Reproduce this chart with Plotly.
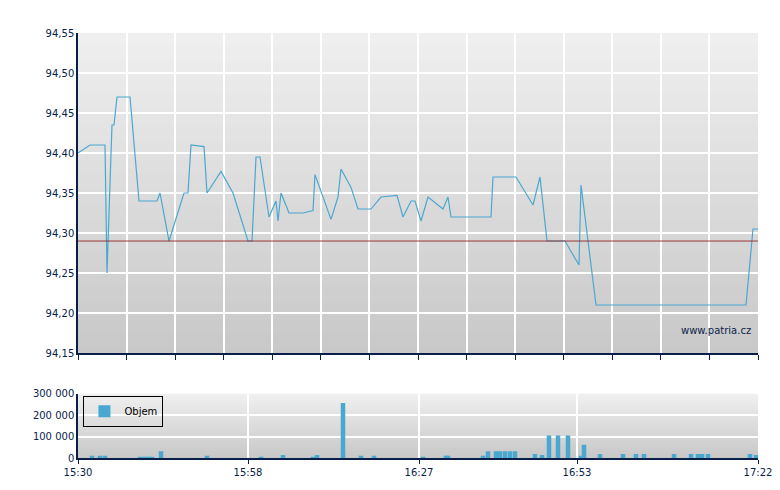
import plotly.graph_objects as go
from plotly.subplots import make_subplots

# x in axis units (0 = 15:30, 680 = 17:22)
price_x = [0, 12, 27, 29, 34, 36, 39, 52, 61, 79, 82, 91, 106, 110, 113, 126, 129, 143, 155,
           170, 174, 178, 182, 191, 198, 200, 203, 211, 225, 235, 237, 253, 260, 263, 273, 280,
           293, 303, 319, 325, 333, 337, 343, 350, 365, 370, 373, 413, 415, 438, 455, 462, 469,
           487, 501, 503, 518, 668, 675, 680]
price_y = [94.40, 94.41, 94.41, 94.25, 94.435, 94.435, 94.47, 94.47, 94.34, 94.34, 94.35, 94.29,
           94.35, 94.35, 94.41, 94.408, 94.35, 94.377, 94.35, 94.29, 94.29, 94.395, 94.395, 94.32,
           94.34, 94.315, 94.35, 94.325, 94.325, 94.328, 94.373, 94.317, 94.345, 94.38, 94.357,
           94.33, 94.33, 94.345, 94.347, 94.32, 94.34, 94.34, 94.315, 94.345, 94.33, 94.345,
           94.32, 94.32, 94.37, 94.37, 94.335, 94.37, 94.29, 94.29, 94.26, 94.36, 94.21, 94.21,
           94.305, 94.305]
ref_price = 94.29

vol_x = [14, 22, 27, 62, 66, 70, 74, 83, 129, 183, 205, 235, 239, 265, 283, 296, 345, 368, 370,
         405, 410, 418, 422, 427, 432, 437, 457, 464, 471, 480, 490, 503, 506, 522, 545, 558, 566,
         596, 613, 620, 624, 630, 672, 678, 684]
vol_y = [10000, 10000, 10000, 6000, 6000, 6000, 6000, 32000, 10000, 6000, 14000, 6000, 14000,
         257000, 10000, 10000, 6000, 10000, 10000, 10000, 32000, 32000, 32000, 32000, 32000, 32000,
         19000, 14000, 105000, 105000, 105000, 10000, 62000, 19000, 19000, 19000, 19000, 19000,
         19000, 19000, 19000, 19000, 19000, 14000, 24000]

tick_vals = [0, 170, 341, 499, 680]
tick_text = ["15:30", "15:58", "16:27", "16:53", "17:22"]

navy = "#0a1e4a"
fig = make_subplots(rows=2, cols=1, row_heights=[0.78, 0.22], vertical_spacing=0.1)

fig.add_trace(go.Scatter(x=price_x, y=price_y, mode="lines", line=dict(color="#4aa8d0", width=1.2),
                         showlegend=False), row=1, col=1)
fig.add_trace(go.Scatter(x=[0, 680], y=[ref_price, ref_price], mode="lines",
                         line=dict(color="#8b1010", width=0.8), showlegend=False), row=1, col=1)
fig.add_trace(go.Bar(x=vol_x, y=vol_y, width=4.5, marker=dict(color="#48a8d0", line_width=0),
                     name="Objem"), row=2, col=1)

# gradient background made of stacked rectangles
shapes = []
for dom in [(0.247, 1.0), (0.0, 0.151)]:
    n = 60
    for i in range(n):
        y0 = dom[0] + (dom[1] - dom[0]) * i / n
        y1 = dom[0] + (dom[1] - dom[0]) * (i + 1) / n + 0.002
        c = int(200 + (240 - 200) * (i + 0.5) / n)
        shapes.append(dict(type="rect", xref="paper", yref="paper", x0=0, x1=1, y0=y0,
                           y1=min(y1, dom[1]),
                           fillcolor=f"rgb({c},{c},{c})", line_width=0, layer="below"))

fig.update_layout(
    width=780, height=490, margin=dict(l=70, r=30, t=25, b=40),
    paper_bgcolor="white", plot_bgcolor="rgba(0,0,0,0)",
    separators=", ", shapes=shapes,
    font=dict(family="DejaVu Sans", size=10, color=navy),
    legend=dict(x=0.008, y=0.11, xanchor="left", yanchor="middle", bgcolor="rgba(0,0,0,0)",
                bordercolor="black", borderwidth=1, itemwidth=30, font=dict(size=10, color="black")),
    annotations=[dict(text="www.patria.cz", xref="paper", yref="paper", x=0.993, y=0.30,
                      xanchor="right", yanchor="middle", showarrow=False,
                      font=dict(size=10, color=navy))],
)
fig.update_layout(yaxis=dict(domain=[0.247, 1.0]), yaxis2=dict(domain=[0.0, 0.151]))
fig.update_xaxes(range=[0, 680], showline=True, linecolor=navy, linewidth=1.5, gridcolor="white",
                 gridwidth=1.5, zeroline=False, automargin=False)
fig.update_xaxes(tickmode="linear", tick0=0, dtick=680 / 14, ticks="outside", ticklen=5,
                 tickcolor=navy, showticklabels=False, row=1, col=1)
fig.update_xaxes(tickmode="array", tickvals=tick_vals, ticktext=tick_text, ticks="outside",
                 ticklen=4, tickcolor=navy, row=2, col=1)
fig.update_yaxes(range=[94.15, 94.55], dtick=0.05, tickformat=".2f", showline=True, linecolor=navy,
                 linewidth=1.5, gridcolor="white", gridwidth=1.5, zeroline=False, automargin=False,
                 row=1, col=1)
fig.update_yaxes(range=[0, 300000], dtick=100000, tickformat=",d", showline=True, linecolor=navy,
                 linewidth=1.5, gridcolor="white", gridwidth=1.5, zeroline=False, automargin=False,
                 row=2, col=1)

fig.write_html("out.html")
